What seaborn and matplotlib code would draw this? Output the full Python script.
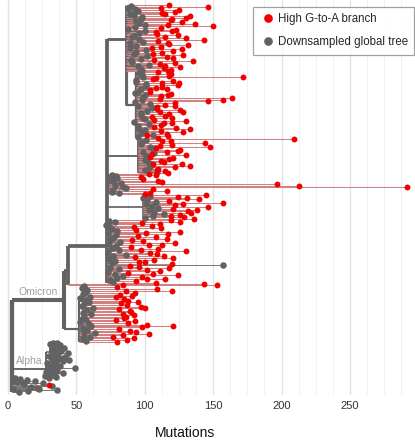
import numpy as np
import pandas as pd
import matplotlib
matplotlib.use("Agg")
import matplotlib.pyplot as plt
import seaborn as sns
from matplotlib.collections import LineCollection
from matplotlib.lines import Line2D

# ---------------- data (mutation counts) ----------------
A_gray = [90, 88, 93, 95, 89, 92, 98, 97, 94, 96, 100]
A_red = [118, 146, 112, 125, 122, 113, 115, 133, 130, 120, 119, 127, 137, 117]
B_gray = [93, 88, 100, 96, 92, 91, 96, 99, 89, 94, 89, 101, 94, 92, 102, 97,
          90, 91, 103, 95, 97, 98]
B_red = [150, 112, 123, 120, 108, 109, 124, 115, 130, 143, 110, 117, 118, 132,
         112, 105, 127, 121, 113, 106, 128, 116, 121, 107, 135, 122, 111, 115,
         126, 114, 119, 117]
C_gray = [96, 98, 99, 94, 94, 101, 101, 97, 96, 93, 100, 99, 98, 93, 104, 95,
          105, 102, 97, 97, 99, 100, 92, 103, 95, 96, 100, 98, 106, 95]
C_red = [110, 119, 118, 172, 108, 106, 121, 125, 113, 124, 113, 108, 116, 104,
         104, 119, 117, 112, 164, 111, 157, 146, 122, 115, 122, 109, 109, 126,
         128, 111, 118, 115, 105, 120, 107, 130, 120, 114, 112, 107, 123, 133,
         112, 128, 116, 102, 117, 110]
D_gray = [101, 98, 97, 104, 106, 99, 107, 101, 102, 100, 103, 105, 103, 100, 109]
D_red = [209, 113, 119, 144, 120, 111, 148, 108, 126, 124, 116, 105, 130, 104,
         121, 118, 112, 114, 127, 106, 133, 122, 110, 109, 115, 117]
E_gray = [76, 79, 80, 75, 77, 83, 78, 84, 86, 77, 76, 81]
E_red = [103, 108, 97, 99, 110, 113, 197, 213, 292, 106, 116, 104, 100]
F_gray = [104, 99, 102, 108, 101, 105, 110, 103, 107, 114, 106, 100]
F_red = [145, 124, 131, 140, 118, 157, 128, 122, 146, 121, 138, 132, 134, 126,
         119, 129, 136]
G_gray = [74, 78, 72, 75, 76, 80, 73, 79, 77, 75, 82, 74, 79, 76, 81, 73, 86,
          77, 74, 78, 76, 157, 75, 81, 73, 78, 84, 80, 75, 77]
G_red = [119, 126, 98, 111, 105, 92, 112, 94, 126, 101, 117, 95, 108, 116, 91,
         99, 122, 103, 113, 90, 110, 97, 130, 104, 109, 114, 93, 121, 107, 100,
         96, 120, 89, 96, 118, 102, 111, 88, 106, 124, 98, 115, 102, 94, 108]
I_red = [143, 153]
H1_gray = [56, 54, 58, 57, 55, 60, 53, 57, 59, 56, 54, 62, 58, 55, 61, 56]
H1_red = [84, 80, 109, 120, 86, 93, 82, 91, 79, 85, 88, 95, 83, 87, 97, 100,
          81, 89, 90, 84, 92, 86]
H2_gray = [54, 57, 53, 59, 61, 55, 58, 56, 64, 56, 60, 55, 57]
H2_red = [85, 79, 93, 88, 102, 121, 98, 81, 89, 94, 103, 84, 77, 92, 87, 80]
Alpha1_gray = [33, 36, 31, 38, 35, 34, 41, 35, 32, 37, 39, 37, 44, 34, 33, 36,
               30, 42, 38, 33, 45, 36, 40, 34]
Alpha2_gray = [29, 35, 31, 33, 38, 33, 49, 30, 34, 36, 28, 34, 40, 31, 32, 27,
               35, 30]
Base_gray = [5, 9, 14, 20, 7, 26, 11, 12, 32, 17, 21, 23, 4, 36, 15, 8]
Base_red = [30]

# internal node positions (mutations)
node_x = {"root": 3, "alpha": 28, "alpha1": 31, "omicron": 41, "ba2": 44,
          "main": 72.5, "top": 86, "C": 94, "D": 95, "E": 74, "F": 99,
          "H": 52, "H1": 55}

x_ticks = [0, 50, 100, 150, 200, 250]
labels = ["High G-to-A branch", "Downsampled global tree"]
RED = "#f20000"
GRAY = "#626262"
PINK = "#d38080"

# ---------------- tree building ----------------
def leaves(grays, reds):
    items = [((i + 0.5) / len(grays), 0, v) for i, v in enumerate(grays)]
    items += [((j + 0.5) / len(reds), 1, v) for j, v in enumerate(reds)]
    items.sort(key=lambda t: (t[0], t[1]))
    return [{"x": v, "red": r == 1, "children": None} for _, r, v in items]

def node(key, children):
    return {"x": node_x[key], "key": key, "children": children}

top = node("top", leaves(A_gray, A_red) + leaves(B_gray, B_red)
           + [node("C", leaves(C_gray, C_red))])
main = node("main", [top, node("D", leaves(D_gray, D_red)),
                     node("E", leaves(E_gray, E_red)),
                     node("F", leaves(F_gray, F_red))] + leaves(G_gray, G_red))
ba2 = node("ba2", [main] + leaves([], I_red))
hcl = node("H", [node("H1", leaves(H1_gray, H1_red))] + leaves(H2_gray, H2_red))
omicron = node("omicron", [ba2, hcl])
alpha = node("alpha", [node("alpha1", leaves(Alpha1_gray, []))] + leaves(Alpha2_gray, []))
root = node("root", [omicron, alpha] + leaves(Base_gray, Base_red))

leaf_rows = []
def layout(n):
    if n["children"] is None:
        n["y"] = len(leaf_rows)
        n["n"] = 1
        leaf_rows.append(n)
        return
    for c in n["children"]:
        layout(c)
    n["y"] = float(np.mean([c["y"] for c in n["children"]]))
    n["n"] = sum(c["n"] for c in n["children"])

layout(root)
N = len(leaf_rows)

def width(k):
    return 0.6 + 2.5 * np.sqrt(k / N)

segs, cols, lws = [], [], []
def collect(n):
    if n["children"] is None:
        return
    ys = [c["y"] for c in n["children"]]
    segs.append([(n["x"], min(ys)), (n["x"], max(ys))])
    cols.append(GRAY)
    lws.append(width(n["n"]))
    for c in n["children"]:
        segs.append([(n["x"], c["y"]), (c["x"], c["y"])])
        if c["children"] is None:
            cols.append(PINK if c["red"] else GRAY)
            lws.append(0.75 if c["red"] else 0.6)
        else:
            cols.append(GRAY)
            lws.append(width(c["n"]))
        collect(c)

collect(root)

df = pd.DataFrame({
    "Mutations": [l["x"] for l in leaf_rows],
    "row": [l["y"] for l in leaf_rows],
    "group": [labels[0] if l["red"] else labels[1] for l in leaf_rows],
})

# ---------------- plotting ----------------
sns.set_theme(style="white")
plt.rcParams["font.family"] = ["Liberation Sans", "DejaVu Sans"]

fig = plt.figure(figsize=(4.15, 4.4), dpi=100)
ax = fig.add_axes([0, 45 / 440, 1, 395 / 440])

ax.set_xticks(x_ticks)
ax.set_xticks(np.arange(0, 300, 12.5), minor=True)
ax.grid(which="major", axis="x", color="#e3e3e3", lw=1.0, zorder=0)
ax.grid(which="minor", axis="x", color="#f1f1f1", lw=0.7, zorder=0)
ax.set_axisbelow(True)

lc = LineCollection(segs, colors=cols, linewidths=lws, zorder=2,
                    capstyle="butt")
ax.add_collection(lc)

gray_df = df[df["group"] == labels[1]]
red_df = df[df["group"] == labels[0]]
sns.scatterplot(data=gray_df, x="Mutations", y="row", color=GRAY, s=22,
                linewidth=0, ax=ax, zorder=3, legend=False)
sns.scatterplot(data=red_df, x="Mutations", y="row", color=RED, s=18,
                linewidth=0, ax=ax, zorder=4, legend=False)

s = (N - 1) / 387.0
ax.set_ylim((N - 1) + 3 * s, -5 * s)
ax.set_xlim(-5.7, 297.5)

def find(n, key):
    if n["children"] is None:
        return None
    if n.get("key") == key:
        return n
    for c in n["children"]:
        r = find(c, key)
        if r is not None:
            return r
    return None

for key, txt in [("omicron", "Omicron"), ("alpha", "Alpha")]:
    nd = find(root, key)
    ax.text((node_x["root"] + nd["x"]) / 2, nd["y"] - 3 * s, txt,
            ha="center", va="bottom", color="#a0a0a0", fontsize=7.5, zorder=5)

for sp in ax.spines.values():
    sp.set_visible(False)
ax.set_yticks([])
ax.set_ylabel("")
ax.set_xlabel("")
ax.tick_params(axis="x", length=0, pad=4, labelsize=8, labelcolor="#333333")
fig.text(185 / 415, 3.5 / 440, "Mutations", ha="center", va="baseline",
         fontsize=10, color="#111111")

handles = [Line2D([], [], marker="o", ls="", color=RED, markersize=5.2,
                  label=labels[0]),
           Line2D([], [], marker="o", ls="", color=GRAY, markersize=5.2,
                  label=labels[1])]
leg = ax.legend(handles=handles, loc="upper right",
                bbox_to_anchor=(414 / 415, 1 - 7 / 440),
                bbox_transform=fig.transFigure, borderaxespad=0,
                frameon=True, fancybox=False, fontsize=8.3,
                handletextpad=0.15, labelspacing=0.95, borderpad=0.55,
                handlelength=1.4)
leg.get_frame().set_edgecolor("#8a8a8a")
leg.get_frame().set_linewidth(0.9)

fig.savefig("out.png", dpi=100)
